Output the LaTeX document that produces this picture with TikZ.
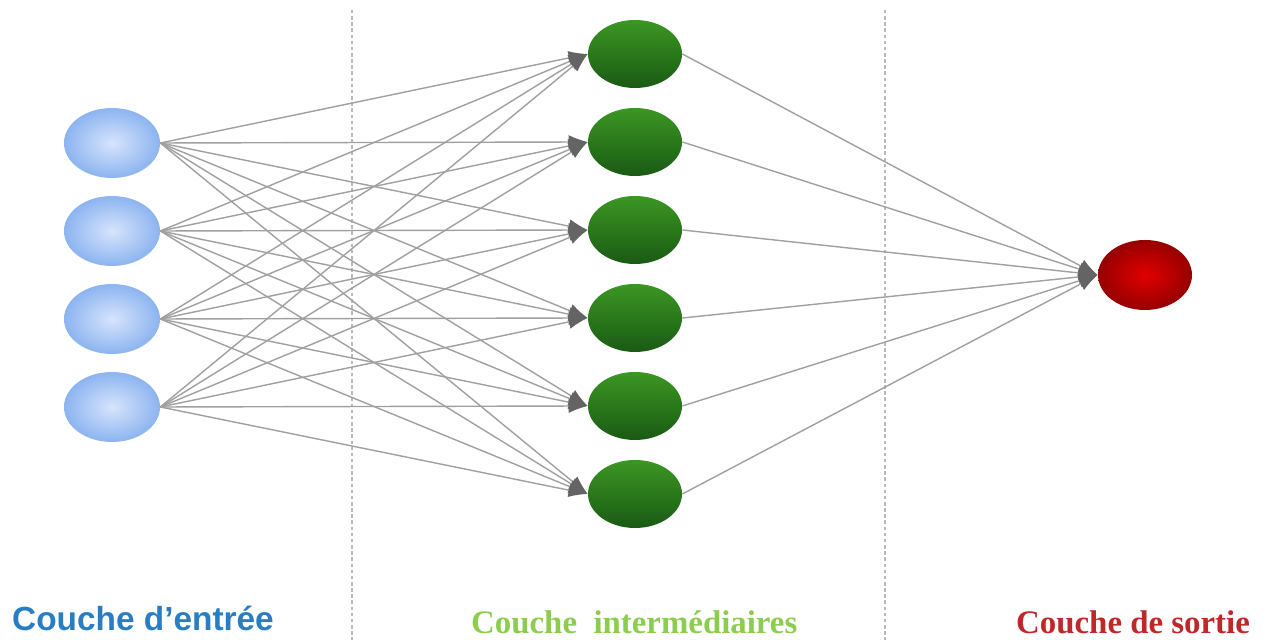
\documentclass[tikz,border=0pt]{standalone}
\usepackage{fontspec}
\usepackage{tikz}
\usetikzlibrary{arrows.meta, shapes.geometric, backgrounds}
\newfontfamily\labelsans{Liberation Sans}
\newfontfamily\labelserif{Liberation Serif}
\definecolor{entreeblue}{RGB}{40,125,195}
\definecolor{interGreen}{RGB}{140,205,80}
\definecolor{sortieRed}{RGB}{190,40,40}
\definecolor{edgegray}{RGB}{160,160,160}
\definecolor{tipgray}{RGB}{100,100,100}
\pgfdeclarelayer{edgelayer}
\pgfdeclarelayer{nodelayer}
\pgfsetlayers{edgelayer,main,nodelayer}
\tikzset{
	inputnode/.style={ellipse, inner sep=0pt, minimum width=1.92cm, minimum height=1.4cm,
		inner color={rgb,255:red,215;green,228;blue,252}, outer color={rgb,255:red,140;green,180;blue,240}},
	hiddennode/.style={ellipse, inner sep=0pt, minimum width=1.88cm, minimum height=1.36cm,
		top color={rgb,255:red,60;green,150;blue,35}, bottom color={rgb,255:red,25;green,90;blue,20}},
	outputnode/.style={ellipse, inner sep=0pt, minimum width=1.88cm, minimum height=1.4cm,
		inner color={rgb,255:red,225;green,0;blue,0}, outer color={rgb,255:red,150;green,0;blue,0}},
	edge/.style={draw=edgegray, line width=0.8pt, -{Latex[length=0.38cm, width=0.28cm, color=tipgray, fill=tipgray]}},
	separator/.style={draw={rgb,255:red,185;green,185;blue,185}, line width=1.2pt, dash pattern=on 2pt off 1.5pt},
}

\begin{document}
\begin{tikzpicture}
	\useasboundingbox (0, 0) rectangle (25.38, 12.8);
	\begin{pgfonlayer}{nodelayer}
		\node [inputnode] (i1) at (2.24, 9.94) {};
		\node [inputnode] (i2) at (2.24, 8.18) {};
		\node [inputnode] (i3) at (2.24, 6.42) {};
		\node [inputnode] (i4) at (2.24, 4.66) {};
		\node [hiddennode] (h1) at (12.70, 11.72) {};
		\node [hiddennode] (h2) at (12.70, 9.96) {};
		\node [hiddennode] (h3) at (12.70, 8.20) {};
		\node [hiddennode] (h4) at (12.70, 6.44) {};
		\node [hiddennode] (h5) at (12.70, 4.68) {};
		\node [hiddennode] (h6) at (12.70, 2.92) {};
		\node [outputnode] (o) at (22.90, 7.30) {};
		\node [font={\labelsans\bfseries\fontsize{19}{22}\selectfont}, text=entreeblue, anchor=base west] (entree) at (0.12, 0.18) {Couche d’entrée};
		\node [font={\labelserif\bfseries\fontsize{18.7}{22}\selectfont}, text=interGreen, anchor=base west] (inter) at (9.30, 0.12) {Couche~~intermédiaires};
		\node [font={\labelserif\bfseries\fontsize{18.7}{22}\selectfont}, text=sortieRed, anchor=base west] (sortie) at (20.20, 0.12) {Couche de sortie};
		\coordinate (s1top) at (7.04, 12.6);
		\coordinate (s1bot) at (7.04, 0);
		\coordinate (s2top) at (17.70, 12.6);
		\coordinate (s2bot) at (17.70, 0);
	\end{pgfonlayer}
	\begin{pgfonlayer}{edgelayer}
		\draw [separator] (s1top) to (s1bot);
		\draw [separator] (s2top) to (s2bot);
		% input layer to hidden layer
		\draw [edge] (i1.east) to (h1.west);
		\draw [edge] (i1.east) to (h2.west);
		\draw [edge] (i1.east) to (h3.west);
		\draw [edge] (i1.east) to (h4.west);
		\draw [edge] (i1.east) to (h5.west);
		\draw [edge] (i1.east) to (h6.west);
		\draw [edge] (i2.east) to (h1.west);
		\draw [edge] (i2.east) to (h2.west);
		\draw [edge] (i2.east) to (h3.west);
		\draw [edge] (i2.east) to (h4.west);
		\draw [edge] (i2.east) to (h5.west);
		\draw [edge] (i2.east) to (h6.west);
		\draw [edge] (i3.east) to (h1.west);
		\draw [edge] (i3.east) to (h2.west);
		\draw [edge] (i3.east) to (h3.west);
		\draw [edge] (i3.east) to (h4.west);
		\draw [edge] (i3.east) to (h5.west);
		\draw [edge] (i3.east) to (h6.west);
		\draw [edge] (i4.east) to (h1.west);
		\draw [edge] (i4.east) to (h2.west);
		\draw [edge] (i4.east) to (h3.west);
		\draw [edge] (i4.east) to (h4.west);
		\draw [edge] (i4.east) to (h5.west);
		\draw [edge] (i4.east) to (h6.west);
		% hidden layer to output
		\draw [edge] (h1.east) to (o.west);
		\draw [edge] (h2.east) to (o.west);
		\draw [edge] (h3.east) to (o.west);
		\draw [edge] (h4.east) to (o.west);
		\draw [edge] (h5.east) to (o.west);
		\draw [edge] (h6.east) to (o.west);
	\end{pgfonlayer}
\end{tikzpicture}
\end{document}
